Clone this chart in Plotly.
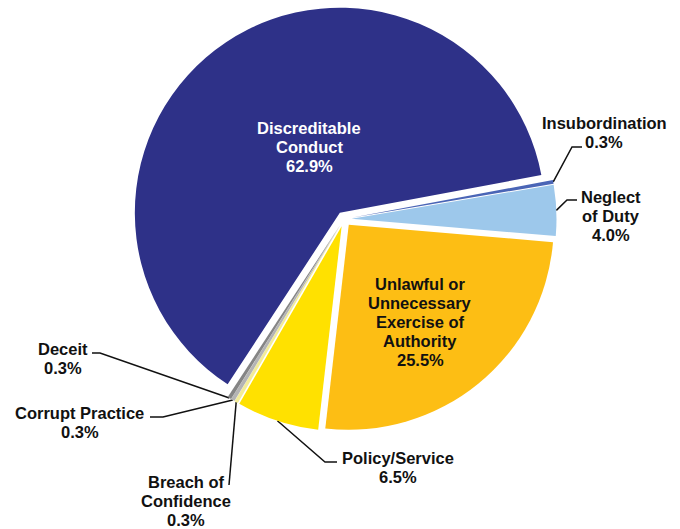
import math
import plotly.graph_objects as go

# Complaint categories, clockwise from the 3 o'clock side
categories = [
    "Insubordination",
    "Neglect of Duty",
    "Unlawful or Unnecessary Exercise of Authority",
    "Policy/Service",
    "Breach of Confidence",
    "Corrupt Practice",
    "Deceit",
    "Discreditable Conduct",
]
shares = [0.3, 4.0, 25.5, 6.5, 0.3, 0.3, 0.3, 62.9]
label_lines = [
    ["Insubordination"],
    ["Neglect", "of Duty"],
    ["Unlawful or", "Unnecessary", "Exercise of", "Authority"],
    ["Policy/Service"],
    ["Breach of", "Confidence"],
    ["Corrupt Practice"],
    ["Deceit"],
    ["Discreditable", "Conduct"],
]
colors = ["#4A65B6", "#9DC8EB", "#FDBE14", "#FFE100", "#F3EC98",
          "#B4B4B4", "#858585", "#2E3188"]

# Canvas / pie geometry (pixels)
W, H = 680, 529
CX, CY = 344.0, 219.0
RADIUS = 205.0
PULL = 0.0366
ROTATION = 79.4
half = RADIUS * (1 + PULL)

FONT = "Liberation Sans, Arial, sans-serif"
FONT_SIZE = 16.5
LINE_STEP = 19.0

fig = go.Figure()
fig.add_trace(go.Pie(
    labels=categories,
    values=shares,
    sort=False,
    direction="clockwise",
    rotation=ROTATION,
    pull=[PULL] * len(shares),
    marker=dict(colors=colors, line=dict(width=0)),
    textinfo="none",
    hoverinfo="label+percent",
    showlegend=False,
    domain=dict(x=[(CX - half) / W, (CX + half) / W],
                y=[1 - (CY + half) / H, 1 - (CY - half) / H]),
))

# Mid-angle of each slice, degrees clockwise from 12 o'clock
total = sum(shares)
mids = []
acc = ROTATION
for v in shares:
    span = v / total * 360.0
    mids.append(acc + span / 2)
    acc += span


def edge_point(i):
    a = math.radians(mids[i])
    r = RADIUS * (1 + PULL)
    return CX + r * math.sin(a), CY - r * math.cos(a)


annotations = []


def add_label(i, x, y, color):
    # one annotation per line so the line spacing stays tight
    lines = label_lines[i] + [f"{shares[i]:.1f}%"]
    n = len(lines)
    for k, t in enumerate(lines):
        annotations.append(dict(
            x=x, y=y + (k - (n - 1) / 2) * LINE_STEP, xref="x", yref="y",
            text=f"<b>{t}</b>", showarrow=False,
            xanchor="center", yanchor="middle",
            font=dict(family=FONT, size=FONT_SIZE, color=color)))


# Label placement: (x, y) of text block centre, leader elbow points
outside = {
    0: ((604, 132), [(572, 147), (582, 147)]),
    1: ((611, 216), [(567, 200), (577, 200)]),
    3: ((397.5, 467.5), [(325, 462), (337, 462)]),
    4: ((186, 501), [(229, 485)]),
    5: ((79.5, 422), [(163, 417), (150, 417)]),
    6: ((62.5, 358), [(100, 353), (92, 353)]),
}
inside = {
    7: ((309, 146.5), "white"),
    2: ((420, 321.5), "#111111"),
}

for i, ((x, y), pts) in outside.items():
    x0, y0 = edge_point(i)
    xs = [x0] + [p[0] for p in pts]
    ys = [y0] + [p[1] for p in pts]
    fig.add_trace(go.Scatter(x=xs, y=ys, mode="lines",
                             line=dict(color="#111111", width=1.5),
                             hoverinfo="skip", showlegend=False))
    add_label(i, x, y, "#111111")
for i, ((x, y), col) in inside.items():
    add_label(i, x, y, col)

fig.update_layout(
    width=W, height=H,
    margin=dict(l=0, r=0, t=0, b=0),
    paper_bgcolor="white", plot_bgcolor="rgba(0,0,0,0)",
    xaxis=dict(range=[0, W], visible=False, fixedrange=True),
    yaxis=dict(range=[H, 0], visible=False, fixedrange=True),
    annotations=annotations,
    showlegend=False,
)

fig.write_html("out.html")
